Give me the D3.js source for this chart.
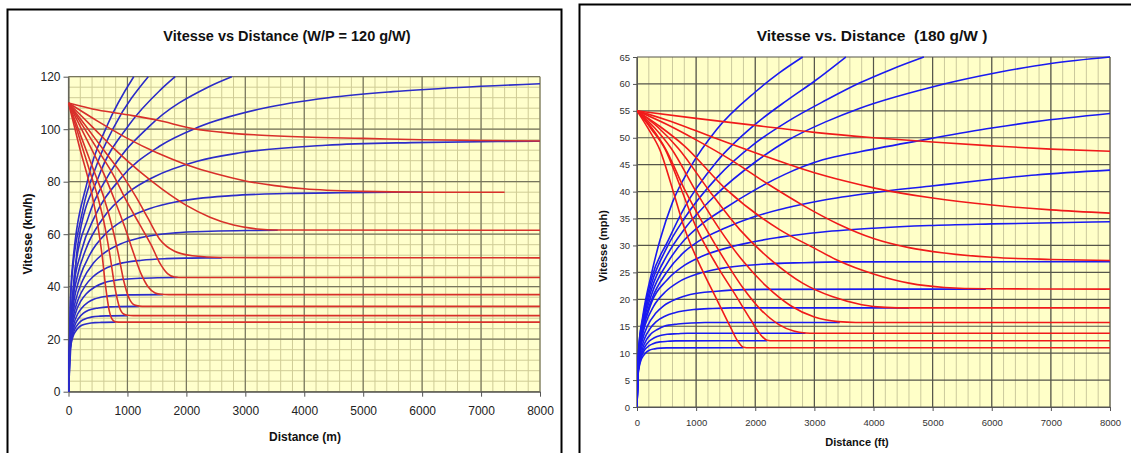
<!DOCTYPE html>
<html>
<head>
<meta charset="utf-8">
<script src="https://cdn.jsdelivr.net/npm/d3@7"></script>
<style>
  body { margin: 0; background: #fff; }
  svg { display: block; font-family: Arial, "Liberation Sans", sans-serif; }
</style>
</head>
<body>
<svg id="chart" width="1131" height="453"></svg>
<script>
// ---- left chart : metric, W/P = 120 g/W ----
const leftTitle = "Vitesse vs Distance (W/P = 120 g/W)"
const leftXLabel = "Distance (m)"
const leftYLabel = "Vitesse (km/h)"
const leftXTicks = [0, 1000, 2000, 3000, 4000, 5000, 6000, 7000, 8000]
const leftYTicks = [0, 20, 40, 60, 80, 100, 120]

// acceleration curves from standstill  [distance m, speed km/h]
const leftAccel = [
  [[0,0],[3,8.2],[11,12.1],[22,15.0],[45,18.3],[78,21.1],[112,22.7],[168,24.4],[224,25.3],[336,26.0],[448,26.3],[560,26.4],[800,26.5]],
  [[0,0],[4,9.0],[13,13.3],[27,16.4],[54,20.0],[94,23.1],[134,24.9],[201,26.7],[268,27.6],[402,28.5],[536,28.8],[670,28.9],[1000,29]],
  [[0,0],[5,10.0],[17,14.9],[34,18.4],[68,22.5],[118,25.9],[169,27.9],[254,29.9],[338,31.0],[507,31.9],[676,32.3],[845,32.4],[1200,32.5]],
  [[0,0],[7,11.4],[22,16.9],[44,20.9],[88,25.6],[153,29.5],[219,31.7],[329,34.0],[438,35.3],[657,36.4],[876,36.8],[1095,36.9],[1600,37]],
  [[0,0],[9,13.4],[30,19.9],[60,24.6],[121,30.1],[211,34.6],[302,37.3],[453,40.0],[604,41.5],[906,42.8],[1208,43.2],[1510,43.4],[1850,43.5]],
  [[0,0],[12,15.8],[42,23.3],[83,28.9],[166,35.2],[291,40.6],[415,43.8],[623,46.9],[830,48.6],[1245,50.1],[1660,50.7],[2075,50.9],[2600,51]],
  [[0,0],[18,19.0],[60,28.1],[121,34.8],[242,42.5],[423,49.0],[604,52.8],[906,56.5],[1208,58.6],[1812,60.5],[2416,61.1],[3020,61.4],[3550,61.5]],
  [[0,0],[28,23.5],[92,34.7],[184,43.0],[369,52.5],[645,60.5],[922,65.2],[1383,69.8],[1844,72.4],[2766,74.7],[3688,75.5],[4610,75.8],[6000,76]],
  [[0,0],[44,29.5],[146,43.6],[291,54.1],[582,66.0],[1019,76.0],[1456,81.9],[2184,87.8],[2912,91.0],[4368,93.9],[5824,94.9],[7280,95.3],[8000,95.4]],
  [[0,0],[66,36.3],[220,53.7],[441,66.5],[882,81.2],[1543,93.5],[2205,100.8],[3307,108.0],[4410,112.0],[5500,114.3],[6615,115.9],[8000,117.3]],
  [[0,0],[102,45.1],[340,66.7],[681,82.6],[1361,100.9],[2382,116.2],[2770,120]],
  [[0,0],[155,55.6],[517,82.3],[1035,101.9],[1552,114.8],[1810,120]],
  [[0,0],[39,38],[236,68.6],[472,86],[787,101.5],[1353,120]],
  [[0,0],[55,44.8],[329,81],[658,101.5],[1107,120]]
]

// deceleration curves from 110 km/h
const leftDecel = [
  [[0,110],[100,101],[200,92],[300,84],[400,75],[500,63],[570,52],[630,40],[690,31],[750,27.3],[800,26.6],[900,26.5],[8000,26.5]],
  [[0,110],[125,101],[250,92],[375,83],[500,74],[625,62],[710,51],[785,40],[860,32.5],[935,29.6],[1000,29.1],[1100,29],[8000,29]],
  [[0,110],[150,101],[300,92],[450,83],[600,74],[750,62],[850,52],[940,42],[1030,35.5],[1120,33],[1200,32.6],[1300,32.5],[8000,32.5]],
  [[0,110],[200,101],[400,92],[600,83],[800,72],[950,63],[1100,53],[1230,45],[1350,40],[1470,37.6],[1570,37.1],[1700,37],[8000,37]],
  [[0,110],[250,101],[500,92],[750,83],[1000,72],[1200,64],[1400,56],[1550,49],[1680,45],[1800,43.7],[1950,43.5],[8000,43.5]],
  [[0,110],[300,101],[600,92],[900,83],[1150,74],[1350,66],[1550,58],[1800,53.5],[2100,51.8],[2600,51.1],[8000,51]],
  [[0,110],[400,101],[800,92],[1200,84],[1600,77],[2000,71],[2400,66.5],[2800,63.5],[3200,62],[3550,61.6],[8000,61.5]],
  [[0,110],[500,103],[1000,96.5],[1500,91],[2000,86.5],[2500,83],[3000,80.3],[3500,78.5],[4000,77.3],[5000,76.3],[6000,76],[7400,76]],
  [[0,110],[500,107.3],[1000,105.5],[1500,103.5],[2100,100.3],[2700,98.6],[3200,97.8],[4000,97],[5000,96.5],[6000,96],[7000,95.7],[8000,95.5]]
]

// ---- right chart : imperial, 180 g/W ----
const rightTitle = "Vitesse vs. Distance  (180 g/W )"
const rightXLabel = "Distance (ft)"
const rightYLabel = "Vitesse (mph)"
const rightXTicks = [0, 1000, 2000, 3000, 4000, 5000, 6000, 7000, 8000]
const rightYTicks = [0, 5, 10, 15, 20, 25, 30, 35, 40, 45, 50, 55, 60, 65]

// [distance ft, speed mph]
const rightAccel = [
  [[0,0],[3,3.4],[10,5.0],[20,6.2],[40,7.6],[70,8.8],[100,9.4],[150,10.1],[200,10.5],[300,10.8],[400,10.93],[500,10.98],[1800,11]],
  [[0,0],[4,3.8],[13,5.6],[26,7.0],[52,8.5],[91,9.8],[130,10.6],[195,11.3],[260,11.7],[390,12.1],[520,12.2],[650,12.28],[2200,12.3]],
  [[0,0],[5,4.2],[17,6.3],[34,7.8],[68,9.5],[119,10.9],[170,11.8],[255,12.6],[340,13.1],[510,13.5],[680,13.6],[850,13.7],[2850,13.7]],
  [[0,0],[7,4.9],[23,7.2],[46,8.9],[92,10.8],[161,12.5],[230,13.5],[345,14.4],[460,15.0],[690,15.4],[920,15.6],[1150,15.7],[3430,15.7]],
  [[0,0],[10,5.7],[32,8.4],[64,10.4],[128,12.7],[224,14.6],[320,15.8],[480,16.9],[640,17.5],[960,18.1],[1280,18.3],[1600,18.4],[4600,18.4]],
  [[0,0],[14,6.8],[45,10.0],[90,12.4],[180,15.1],[315,17.4],[450,18.8],[675,20.1],[900,20.9],[1350,21.5],[1800,21.8],[2250,21.85],[5900,21.9]],
  [[0,0],[21,8.3],[70,12.3],[140,15.3],[280,18.7],[490,21.5],[700,23.2],[1050,24.8],[1400,25.7],[2100,26.5],[2800,26.8],[3500,26.95],[8000,27]],
  [[0,0],[30,9],[100,14],[250,19.5],[500,23.5],[800,26.3],[1100,28],[1644,29.9],[2400,31.5],[3142,32.5],[4000,33.2],[4944,33.7],[6000,34],[8000,34.4]],
  [[0,0],[30,9.3],[100,14.5],[250,20],[500,25],[800,28.8],[1043,30.8],[1500,33.3],[1943,35.2],[2500,36.9],[3142,38.4],[4000,39.8],[4944,41],[6000,42.3],[6742,43.1],[8000,44]],
  [[0,0],[30,9.6],[100,15],[250,21],[500,26.5],[800,31],[1043,33.5],[1500,37],[1943,40],[2500,43.2],[3142,45.9],[3771,47.4],[4944,49.8],[6000,51.8],[6742,53],[8000,54.5]],
  [[0,0],[30,10],[100,15.5],[250,22],[500,28],[800,33],[1344,39.5],[2000,45.5],[2544,49.5],[3200,53],[3771,55.5],[4944,59.3],[6142,62.2],[7000,63.8],[8000,65]],
  [[0,0],[30,10.5],[100,16],[250,23],[500,29.5],[800,35],[1344,42.5],[2000,49],[2544,53],[3200,57],[3771,60.2],[4300,62.7],[4852,65]],
  [[0,0],[30,11],[100,16.5],[250,24],[530,31],[800,37],[1344,45.5],[2000,52.5],[2544,57],[3000,60.5],[3532,65]],
  [[0,0],[30,11],[100,17],[250,25],[389,31],[600,38],[900,44.5],[1344,51.5],[2000,58.5],[2400,62],[2802,65]]
]

const rightDecel = [
  [[0,55],[200,51.5],[389,47.7],[600,40.5],[812,32.9],[1100,25.5],[1348,20],[1573,15],[1700,12.3],[1800,11.1],[1900,11],[8000,11]],
  [[0,55],[244,51.6],[475,47.9],[733,40.9],[992,33.6],[1344,26.4],[1648,21.1],[1923,16.2],[2077,13.6],[2200,12.4],[2300,12.3],[8000,12.3]],
  [[0,55],[250,51.8],[480,48],[800,40.5],[1178,32.9],[1500,27],[1800,22],[2100,18],[2400,15.3],[2650,14.1],[2850,13.75],[3000,13.7],[8000,13.7]],
  [[0,55],[300,51.8],[580,48],[1000,40],[1404,32.9],[1800,27],[2200,22.3],[2600,18.8],[3000,16.7],[3400,15.85],[3700,15.7],[8000,15.7]],
  [[0,55],[350,52],[700,48],[1200,40.5],[1742,32.9],[2300,27],[2800,23],[3300,20.5],[3800,19],[4200,18.5],[4600,18.4],[8000,18.4]],
  [[0,55],[400,52],[800,48.5],[1500,40.5],[2418,32.9],[3000,29.5],[3400,27.2],[4000,24.7],[4600,23],[5200,22.2],[5900,21.95],[8000,21.9]],
  [[0,55],[500,52.5],[1000,49.6],[1600,45.8],[2200,41.5],[2800,37.5],[3400,34],[4000,31.3],[4600,29.6],[5200,28.6],[6000,27.8],[7000,27.4],[8000,27.2]],
  [[0,55],[500,53.3],[1000,51.3],[1500,49.2],[2000,47.2],[2500,45.3],[3000,43.5],[3500,42],[4000,40.7],[5000,38.8],[6000,37.5],[7000,36.6],[8000,36]],
  [[0,55],[1000,53.6],[2000,52.3],[3000,51],[4000,50],[5000,49.2],[6000,48.5],[7000,47.9],[8000,47.5]]
]

const svg = d3.select("#chart")
svg.append("rect").attr("width", 1131).attr("height", 453).attr("fill", "#fff")

// panel frames (bottom edge is outside the picture)
svg.append("rect").attr("x", 7.5).attr("y", 9.5).attr("width", 554).attr("height", 470)
  .attr("fill", "none").attr("stroke", "#000").attr("stroke-width", 2)
svg.append("rect").attr("x", 579.5).attr("y", 4.5).attr("width", 570).attr("height", 470)
  .attr("fill", "none").attr("stroke", "#000").attr("stroke-width", 2)

function drawChart(selection, cfg) {
  const xAccessor = d => d[0]
  const yAccessor = d => d[1]

  const xScale = d3.scaleLinear().domain(cfg.xDomain).range([cfg.left, cfg.right])
  const yScale = d3.scaleLinear().domain(cfg.yDomain).range([cfg.bottom, cfg.top])

  const g = selection.append("g")

  g.append("rect")
    .attr("x", cfg.left).attr("y", cfg.top)
    .attr("width", cfg.right - cfg.left).attr("height", cfg.bottom - cfg.top)
    .attr("fill", cfg.background)

  // minor gridlines
  g.append("g").selectAll("line").data(cfg.xMinor).join("line")
    .attr("x1", d => xScale(d)).attr("x2", d => xScale(d))
    .attr("y1", cfg.top).attr("y2", cfg.bottom)
    .attr("stroke", cfg.minorColor).attr("stroke-width", 1)
  g.append("g").selectAll("line").data(cfg.yMinor).join("line")
    .attr("y1", d => yScale(d)).attr("y2", d => yScale(d))
    .attr("x1", cfg.left).attr("x2", cfg.right)
    .attr("stroke", cfg.minorColor).attr("stroke-width", 1)

  // major gridlines
  g.append("g").selectAll("line").data(cfg.xTicks).join("line")
    .attr("x1", d => xScale(d)).attr("x2", d => xScale(d))
    .attr("y1", cfg.top).attr("y2", cfg.bottom)
    .attr("stroke", cfg.majorColor).attr("stroke-width", 1.2)
  g.append("g").selectAll("line").data(cfg.yTicks).join("line")
    .attr("y1", d => yScale(d)).attr("y2", d => yScale(d))
    .attr("x1", cfg.left).attr("x2", cfg.right)
    .attr("stroke", cfg.majorColor).attr("stroke-width", 1.2)

  // axes
  const fmt = d3.format("d")
  const xAxis = g.append("g")
    .attr("transform", "translate(0," + cfg.bottom + ")")
    .call(d3.axisBottom(xScale).tickValues(cfg.xTicks).tickFormat(fmt)
      .tickSize(cfg.tickSize).tickPadding(cfg.xPad).tickSizeOuter(0))
  const yAxis = g.append("g")
    .attr("transform", "translate(" + cfg.left + ",0)")
    .call(d3.axisLeft(yScale).tickValues(cfg.yTicks).tickFormat(fmt)
      .tickSize(cfg.tickSize).tickPadding(cfg.yPad).tickSizeOuter(0))
  ;[xAxis, yAxis].forEach(a => {
    a.selectAll("path, line").attr("stroke", cfg.axisColor)
    a.selectAll("text").attr("fill", cfg.textColor).style("font-size", cfg.tickFont + "px")
  })

  const clipId = "clip-" + cfg.name
  g.append("clipPath").attr("id", clipId).append("rect")
    .attr("x", cfg.left).attr("y", cfg.top - 1)
    .attr("width", cfg.right - cfg.left + 1).attr("height", cfg.bottom - cfg.top + 1)

  const line = d3.line()
    .x(d => xScale(xAccessor(d)))
    .y(d => yScale(yAccessor(d)))
    .curve(d3.curveMonotoneX)

  const curves = g.append("g").attr("clip-path", "url(#" + clipId + ")")
  curves.selectAll(".accel").data(cfg.accel).join("path")
    .attr("class", "accel")
    .attr("d", line)
    .attr("fill", "none")
    .attr("stroke", cfg.blue)
    .attr("stroke-width", cfg.lineWidth)
  curves.selectAll(".decel").data(cfg.decel).join("path")
    .attr("class", "decel")
    .attr("d", line)
    .attr("fill", "none")
    .attr("stroke", cfg.red)
    .attr("stroke-width", cfg.lineWidth)

  // titles
  g.append("text")
    .attr("x", cfg.titleX).attr("y", cfg.titleY)
    .attr("text-anchor", "middle")
    .style("font-size", cfg.titleFont + "px").style("font-weight", "bold")
    .style("white-space", "pre")
    .attr("fill", "#111")
    .text(cfg.title)
  g.append("text")
    .attr("x", cfg.xLabelX).attr("y", cfg.xLabelY)
    .attr("text-anchor", "middle")
    .style("font-size", cfg.labelFont + "px").style("font-weight", "bold")
    .attr("fill", "#111")
    .text(cfg.xLabel)
  g.append("text")
    .attr("transform", "translate(" + cfg.yLabelX + "," + cfg.yLabelY + ") rotate(-90)")
    .attr("text-anchor", "middle")
    .style("font-size", cfg.labelFont + "px").style("font-weight", "bold")
    .attr("fill", "#111")
    .text(cfg.yLabel)

  return g
}

drawChart(svg, {
  name: "left",
  xDomain: [0, 8000], yDomain: [0, 120],
  left: 68.5, right: 540, top: 76.7, bottom: 391.7,
  xTicks: leftXTicks, yTicks: leftYTicks,
  xMinor: d3.range(0, 8001, 200), yMinor: d3.range(0, 121, 4),
  background: "#ffffcc", minorColor: "#cfcc96", majorColor: "#77765e",
  axisColor: "#555", textColor: "#222",
  tickSize: 5, xPad: 10, yPad: 3, tickFont: 12,
  accel: leftAccel, decel: leftDecel,
  blue: "#2c2cc8", red: "#d8302a", lineWidth: 1.6,
  title: leftTitle, titleX: 287, titleY: 41, titleFont: 14.5,
  xLabel: leftXLabel, xLabelX: 305, xLabelY: 441,
  yLabel: leftYLabel, yLabelX: 32, yLabelY: 234, labelFont: 12
})

drawChart(svg, {
  name: "right",
  xDomain: [0, 8000], yDomain: [0, 65],
  left: 637, right: 1110, top: 57, bottom: 407,
  xTicks: rightXTicks, yTicks: rightYTicks,
  xMinor: d3.range(0, 8001, 200), yMinor: [],
  background: "#ffffc8", minorColor: "#cbc99c", majorColor: "#55554a",
  axisColor: "#555", textColor: "#333",
  tickSize: 4, xPad: 8, yPad: 3, tickFont: 9.5,
  accel: rightAccel, decel: rightDecel,
  blue: "#1a1af0", red: "#f01a1a", lineWidth: 1.6,
  title: rightTitle, titleX: 872, titleY: 41, titleFont: 15.5,
  xLabel: rightXLabel, xLabelX: 857, xLabelY: 446,
  yLabel: rightYLabel, yLabelX: 607, yLabelY: 246, labelFont: 11
})
</script>
</body>
</html>
